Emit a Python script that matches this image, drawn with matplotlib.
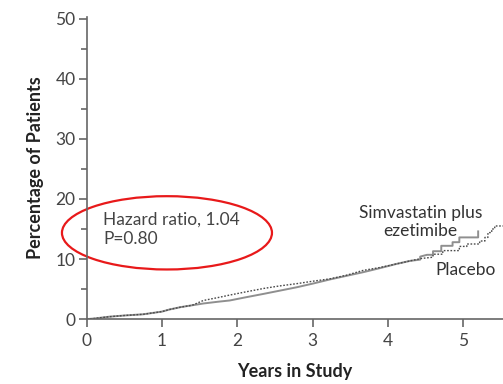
import matplotlib
matplotlib.use("Agg")
import matplotlib.pyplot as plt
from matplotlib.patches import Ellipse
from matplotlib.ticker import MultipleLocator

plt.rcParams['font.family'] = ['Lato', 'DejaVu Sans']

# curves (years, percent); step corners kept as repeated points
simva_t = [0, 0.1, 0.3, 0.5, 0.75, 1.0, 1.1, 1.25, 1.4, 1.55, 1.75, 1.9, 2.1, 2.35, 2.55,
           2.79, 3.0, 3.23, 3.45, 3.67, 3.9, 4.12, 4.3, 4.43, 4.43, 4.52, 4.6, 4.6, 4.71,
           4.71, 4.86, 4.86, 4.95, 4.95, 5.2, 5.2]
simva_v = [0, 0.1, 0.4, 0.6, 0.8, 1.25, 1.6, 2.0, 2.3, 2.6, 2.9, 3.1, 3.6, 4.2, 4.7,
           5.3, 5.9, 6.6, 7.2, 7.8, 8.5, 9.2, 9.7, 9.9, 10.4, 10.7, 10.7, 11.3, 11.3,
           12.2, 12.2, 12.8, 12.8, 13.6, 13.6, 14.6]

placebo_t = [0, 0.1, 0.3, 0.5, 0.75, 1.0, 1.1, 1.25, 1.4, 1.55, 1.75, 1.9, 2.1, 2.35, 2.55,
             2.79, 3.0, 3.23, 3.45, 3.67, 3.9, 4.12, 4.3, 4.45, 4.6, 4.6, 4.73, 4.73, 4.95,
             4.95, 5.05, 5.05, 5.22, 5.22, 5.29, 5.29, 5.33, 5.33, 5.38, 5.38, 5.42, 5.42, 5.53]
placebo_v = [0, 0.1, 0.4, 0.6, 0.8, 1.25, 1.6, 2.0, 2.3, 3.1, 3.6, 4.0, 4.5, 5.1, 5.5,
             5.9, 6.3, 6.7, 7.3, 8.1, 8.6, 9.2, 9.7, 10.1, 10.3, 10.8, 10.8, 11.4, 11.4,
             12.1, 12.1, 12.5, 12.5, 13.0, 13.0, 13.6, 13.6, 14.4, 14.4, 15.0, 15.0, 15.5, 15.5]

x_ticks = [0, 1, 2, 3, 4, 5]
y_ticks = [0, 10, 20, 30, 40, 50]

fig = plt.figure(figsize=(5.03, 3.84), dpi=100)
ax = fig.add_axes([0.1724, 0.169, 0.8276, 0.787])

ax.plot(simva_t, simva_v, color='#8f8f8f', lw=1.4)
ax.plot(placebo_t, placebo_v, color='#4a4a4a', lw=1.0, ls=(0, (1.2, 1.2)))

ax.set_xlim(0, 5.53)
ax.set_ylim(0, 50.3)
ax.set_xticks(x_ticks)
ax.set_yticks(y_ticks)
ax.yaxis.set_minor_locator(MultipleLocator(5))

for s in ['top', 'right']:
    ax.spines[s].set_visible(False)
for s in ['left', 'bottom']:
    ax.spines[s].set_color('#666666')
    ax.spines[s].set_linewidth(1.2)

ax.tick_params(which='major', length=6, width=1.2, color='#666666', labelcolor='#444444',
               labelsize=12.5, pad=2)
ax.tick_params(axis='x', pad=4)
ax.tick_params(which='minor', length=4, width=1.2, color='#666666')

ax.set_xlabel('Years in Study', fontsize=13, fontweight='bold', color='#222222', labelpad=10)
ax.set_ylabel('Percentage of Patients', fontsize=13, fontweight='bold', color='#222222', labelpad=8)

ax.text(0.22, 14.9, 'Hazard ratio, 1.04\nP=0.80', fontsize=12.5, color='#444444',
        va='center', ha='left', linespacing=1.25)
ax.text(4.43, 16.2, 'Simvastatin plus\nezetimibe', fontsize=12.5, color='#333333',
        va='center', ha='center', linespacing=1.15)
ax.text(5.03, 8.2, 'Placebo', fontsize=12.5, color='#333333', va='center', ha='center')

ell = Ellipse((1.066, 14.36), 2.79, 12.2, fill=False, edgecolor='#e8191a', lw=1.6, clip_on=False)
ax.add_patch(ell)

fig.savefig('out.png', dpi=100)
